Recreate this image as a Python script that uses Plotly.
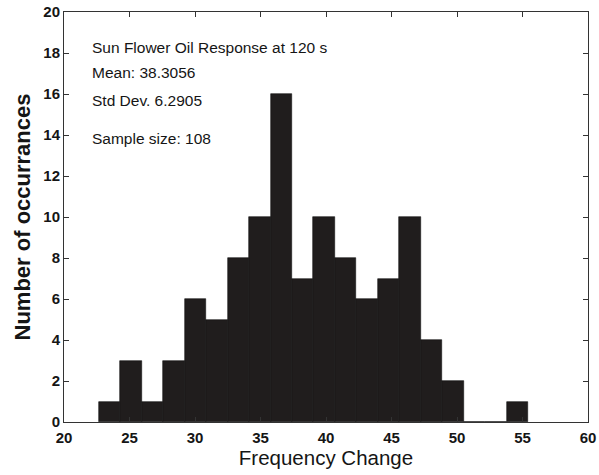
import numpy as np
import plotly.graph_objects as go

# Histogram data (MATLAB hist, 20 bins)
counts = [1, 3, 1, 3, 6, 5, 8, 10, 16, 7, 10, 8, 6, 7, 10, 4, 2, 0, 0, 1]
data_min = 22.64
data_max = 55.45
x_ticks = [20, 25, 30, 35, 40, 45, 50, 55, 60]
y_ticks = [0, 2, 4, 6, 8, 10, 12, 14, 16, 18, 20]
title_text = "Sun Flower Oil Response at 120 s"
mean_text = "Mean: 38.3056"
std_text = "Std Dev. 6.2905"
n_text = "Sample size: 108"

edges = np.linspace(data_min, data_max, len(counts) + 1)
centers = (edges[:-1] + edges[1:]) / 2
width = edges[1] - edges[0]

FONT = "Liberation Sans, Arial, sans-serif"
INK = "#151515"
fig = go.Figure()
fig.add_trace(go.Bar(
    x=centers, y=counts, width=width,
    marker=dict(color="#201d1d", line=dict(color="#111", width=0.6)),
    showlegend=False,
))

fig.update_layout(
    width=599, height=475,
    margin=dict(l=64, r=11, t=12, b=53),
    paper_bgcolor="white", plot_bgcolor="white",
    font=dict(family=FONT, color=INK),
    bargap=0,
)
fig.update_xaxes(
    range=[20, 60], tickvals=x_ticks, ticks="inside", ticklen=5, tickcolor="#333",
    showline=True, linecolor="#333", linewidth=1, mirror="allticks",
    showgrid=False, zeroline=False, automargin=False, ticklabelstandoff=2,
    tickfont=dict(size=15, family=FONT, color=INK, weight="bold"),
    title=dict(text="Frequency Change", font=dict(size=20.5, family=FONT, color=INK), standoff=4),
)
fig.update_yaxes(
    range=[0, 20], tickvals=y_ticks, ticks="inside", ticklen=5, tickcolor="#333",
    showline=True, linecolor="#333", linewidth=1, mirror="allticks",
    showgrid=False, zeroline=False, automargin=False,
    tickfont=dict(size=15, family=FONT, color=INK, weight="bold"),
    title=dict(text="Number of occurrances", font=dict(size=22, family=FONT, color=INK, weight="bold"), standoff=6),
)

for txt, y in [(title_text, 18.27), (mean_text, 17.07), (std_text, 15.68), (n_text, 13.83)]:
    fig.add_annotation(x=21.95, y=y, text=txt, showarrow=False, xanchor="left", yanchor="middle",
                       font=dict(size=15.5, family=FONT, color=INK))

fig.write_html("out.html")
